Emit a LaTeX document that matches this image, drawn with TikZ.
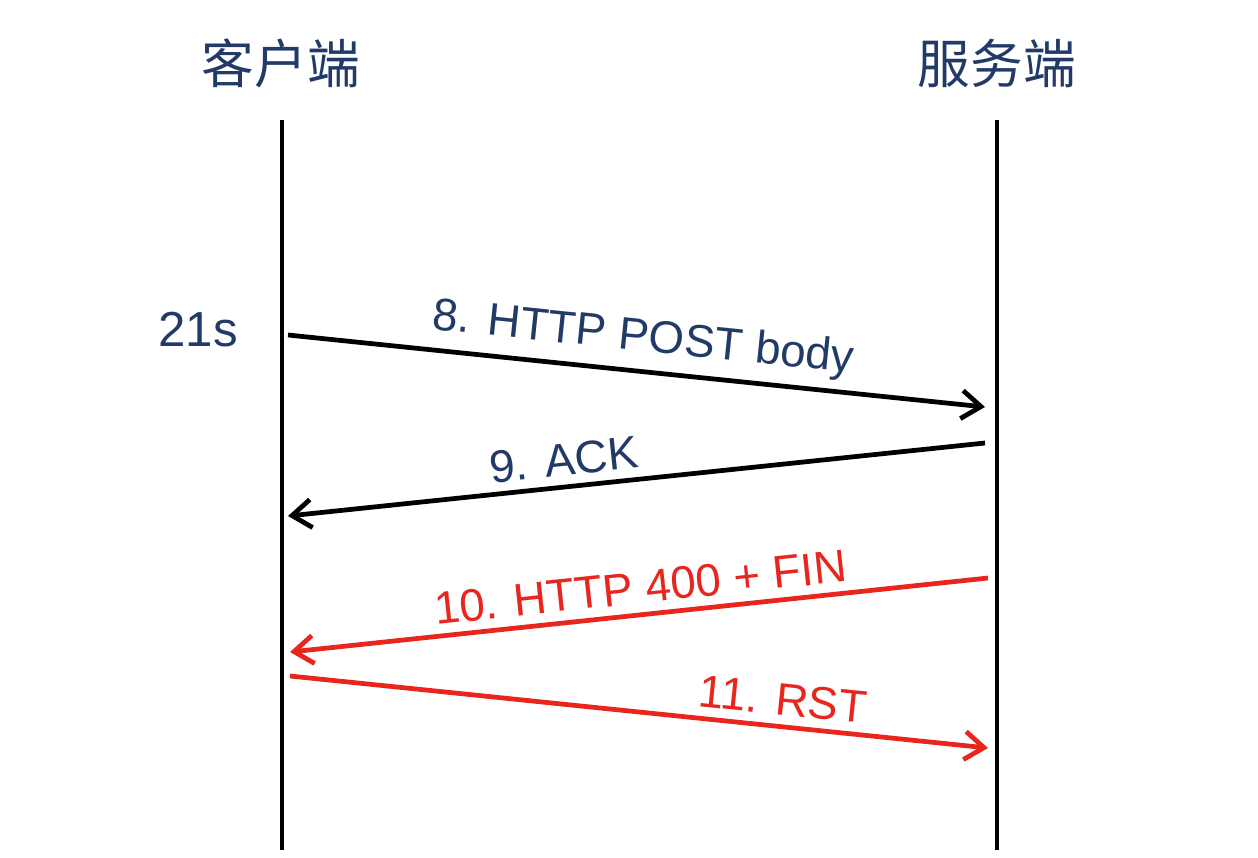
\documentclass[tikz,border=0pt]{standalone}
\usepackage{fontspec}
\setmainfont{Liberation Sans}
\newfontfamily\cjk{Noto Sans CJK SC}
\usetikzlibrary{arrows.meta}
\definecolor{labelblue}{RGB}{33,58,104}
\definecolor{msgred}{RGB}{232,38,30}

\begin{document}
\begin{tikzpicture}[
    x=0.02cm, y=-0.02cm,
    >={Straight Barb[length=11pt,width=16pt]},
    head/.style={font=\cjk\fontsize{30}{36}\selectfont, text=labelblue},
    time/.style={font=\fontsize{28}{32}\selectfont, text=labelblue},
    lifeline/.style={line width=2.6pt},
    msg/.style={->, line width=2.7pt},
    lbl/.style={font=\fontsize{26}{30}\selectfont, text=labelblue,
        sloped, above=3pt, inner sep=2pt}
]
\useasboundingbox (0,0) rectangle (1258,858);

% Headers
\node[head] (client) at (281,63) {客户端};
\node[head] (server) at (997,63) {服务端};

% Lifelines
\coordinate (ctop) at (282,120);
\coordinate (cbot) at (282,850);
\coordinate (stop) at (997,120);
\coordinate (sbot) at (997,850);
\draw[lifeline] (ctop) -- (cbot);
\draw[lifeline] (stop) -- (sbot);

% Time mark
\node[time] (t21) at (198,330) {21s};

% Message ends
\coordinate (c8) at (288,335);
\coordinate (s8) at (985,407);
\coordinate (s9) at (985,443);
\coordinate (c9) at (288,516);
\coordinate (s10) at (988,578);
\coordinate (c10) at (290,652);
\coordinate (c11) at (290,676);
\coordinate (s11) at (988,748);

% Messages
\draw[msg] (c8) -- node[lbl, pos=0.505] {8. HTTP POST body} (s8);
\draw[msg] (s9) -- node[lbl, pos=0.6] {9. ACK} (c9);
\draw[msg, msgred] (s10) -- node[lbl, text=msgred, pos=0.494] {10. HTTP 400 + FIN} (c10);
\draw[msg, msgred] (c11) -- node[lbl, text=msgred, pos=0.702] {11. RST} (s11);

\end{tikzpicture}
\end{document}
